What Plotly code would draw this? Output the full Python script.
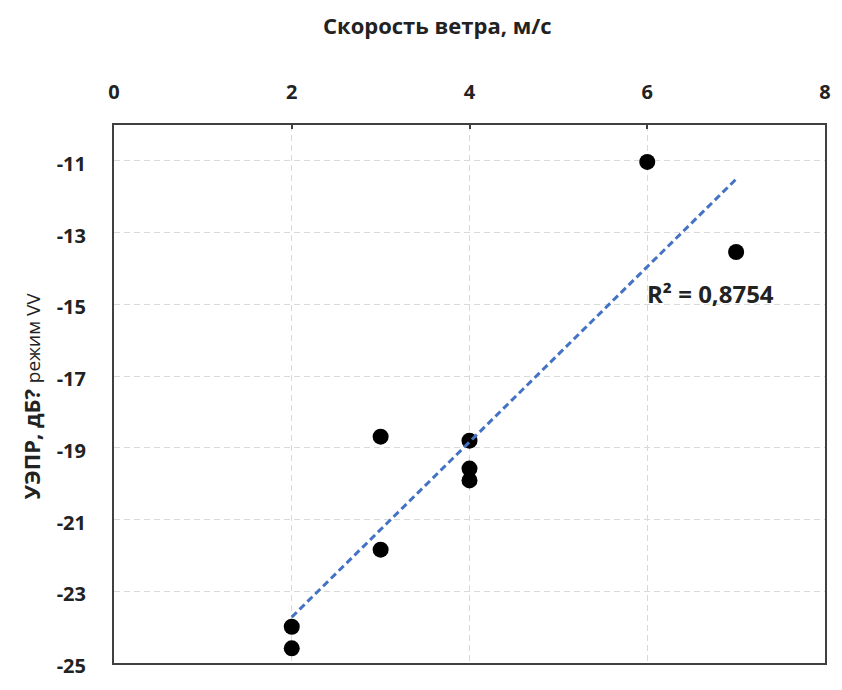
import numpy as np
import plotly.graph_objects as go

wind_speed = [6, 7, 3, 4, 4, 4, 3, 2, 2]
uepr_vv = [-11.03, -13.54, -18.69, -18.80, -19.58, -19.91, -21.84, -23.99, -24.59]
x_ticks = [0, 2, 4, 6, 8]
x_tick_labels = ["0", "2", "4", "6", "8"]
y_ticks = [-25, -23, -21, -19, -17, -15, -13, -11]
y_tick_labels = ["-25", "-23", "-21", "-19", "-17", "-15", "-13", "-11"]
r2_label = "R² = 0,8754"
x_title = "Скорость ветра, м/с"
y_title_main = "УЭПР, дБ?"
y_title_sub = "режим VV"

slope, intercept = np.polyfit(wind_speed, uepr_vv, 1)
tx = [min(wind_speed), max(wind_speed)]
ty = [slope * v + intercept for v in tx]

FONT = "Open Sans, Liberation Sans, sans-serif"

fig = go.Figure()
fig.add_trace(go.Scatter(x=wind_speed, y=uepr_vv, mode="markers",
                         marker=dict(color="black", size=16), showlegend=False))
fig.add_trace(go.Scatter(x=tx, y=ty, mode="lines",
                         line=dict(color="#4472C4", width=3, dash="7px,4px"),
                         showlegend=False))

fig.update_layout(
    width=826, height=674,
    margin=dict(l=106, r=3, t=117, b=4),
    paper_bgcolor="white", plot_bgcolor="white",
    xaxis=dict(side="top", range=[0, 8], tickvals=x_ticks,
               ticktext=["<b>" + t + "</b>" for t in x_tick_labels],
               ticks="inside", ticklen=4, tickcolor="#404040", tickwidth=2,
               showline=True, mirror=True, linecolor="#404040", linewidth=2,
               showgrid=True, gridcolor="#D9D9D9", griddash="6px,4px", gridwidth=1,
               zeroline=False, ticklabelstandoff=16, ticklabeloverflow="allow",
               tickfont=dict(family=FONT, size=20, color="#222222")),
    yaxis=dict(range=[-25, -10], tickvals=y_ticks,
               ticktext=["<b>" + t + "</b>" for t in y_tick_labels],
               ticks="", showline=True, mirror=True, linecolor="#404040", linewidth=2,
               showgrid=True, gridcolor="#D9D9D9", griddash="6px,4px", gridwidth=1,
               zeroline=False, ticklabelstandoff=22, ticklabeloverflow="allow",
               ticklabelshift=3,
               tickfont=dict(family=FONT, size=20, color="#222222")),
    annotations=[
        dict(text="<b>" + x_title + "</b>", xref="paper", yref="paper",
             x=0.4547, y=1.186, xanchor="center", yanchor="middle", showarrow=False,
             font=dict(family=FONT, size=22, color="#222222")),
        dict(text="<b>" + y_title_main + "</b> <span style='font-size:19px'>" + y_title_sub + "</span>",
             xref="paper", yref="paper", x=-0.117, y=0.497, textangle=-90,
             xanchor="center", yanchor="middle", showarrow=False,
             font=dict(family=FONT, size=22, color="#222222")),
        dict(text="<b>" + r2_label + "</b>", x=5.98, y=-14.7, xref="x", yref="y",
             xanchor="left", yanchor="middle", showarrow=False,
             font=dict(family=FONT, size=24, color="#222222")),
    ],
)

fig.write_html("out.html", config={"displayModeBar": False})
